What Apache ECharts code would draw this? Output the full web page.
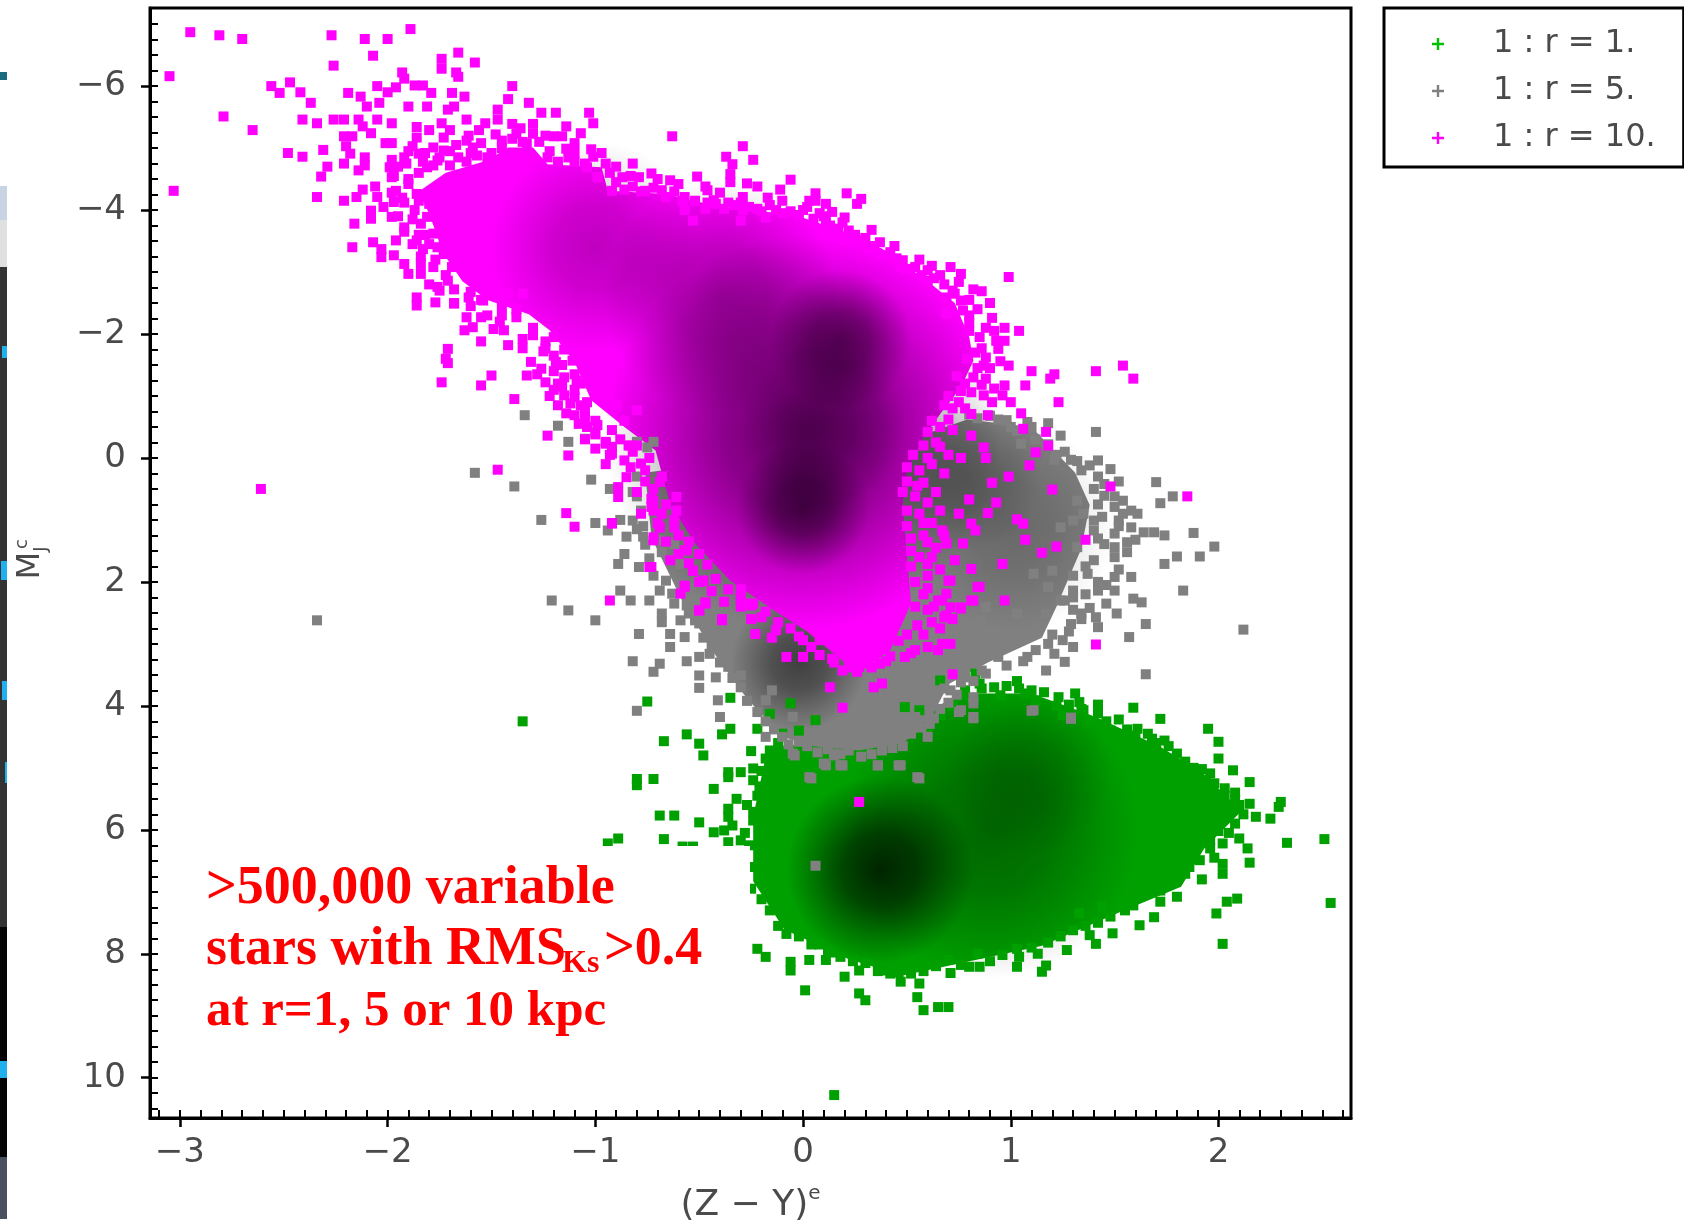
<!DOCTYPE html>
<html><head><meta charset="utf-8">
<style>html,body{margin:0;padding:0;background:#fff}#c{width:1684px;height:1229px}</style>
<script src="https://cdn.jsdelivr.net/npm/echarts@6/dist/echarts.min.js"></script>
</head><body><div id="c"></div>
<script>
const seriesNames = ['1 : r = 1.', '1 : r = 5.', '1 : r = 10.'];
const xLabels = [-3, -2, -1, 0, 1, 2];
const yLabels = [-6, -4, -2, 0, 2, 4, 6, 8, 10];

// Isolated stars: x, y, x, y ...
const magentaPts = [
-2.95,-6.87,-2.81,-6.82,-2.70,-6.76,-2.27,-6.82,-2.11,-6.76,-2.00,-6.76,-1.89,-6.92,-2.07,-6.49,-2.26,-6.33,-3.05,-6.16,-1.74,-6.44,-1.74,-6.28,-1.66,-6.54,-1.58,-6.38,-1.67,-6.22,-1.66,-6.15,-1.93,-6.22,-1.92,-6.12,
-2.56,-6.00,-2.52,-5.89,-2.47,-6.06,-2.42,-5.90,-2.37,-5.73,-2.79,-5.51,-2.65,-5.29,-2.41,-5.46,-2.34,-5.40,-2.26,-5.46,-2.21,-5.46,-2.19,-5.89,-2.13,-5.83,-2.10,-5.67,-2.05,-6.00,-2.04,-5.73,-2.00,-5.90,-1.96,-5.98,-1.87,-6.01,-1.83,-6.01,-1.79,-5.89,-1.81,-5.67,-1.90,-5.67,-1.69,-5.89,-1.63,-5.83,-1.68,-5.67,-1.71,-5.62,-1.40,-6.00,-1.42,-5.79,-1.32,-5.73,-1.47,-5.62,-1.47,-5.46,-1.26,-5.57,-1.19,-5.57,-1.03,-5.57,-1.01,-5.40,-1.62,-5.46,-1.53,-5.40,-2.14,-5.46,-2.12,-5.35,-2.05,-5.46,-1.98,-5.40,-2.08,-5.24,-2.17,-5.19,-2.21,-5.19,-2.20,-5.03,-2.18,-4.91,-1.98,-5.08,-2.01,-5.08,-1.86,-5.34,-1.86,-5.17,-1.88,-5.03,-1.80,-5.29,-1.74,-5.40,-1.70,-5.29,-1.73,-5.17,-1.61,-5.20,-1.56,-5.29,-1.40,-5.39,-1.30,-5.39,-1.30,-5.23,-1.14,-5.35,-1.20,-5.19,-1.16,-5.19,-1.07,-5.24,-1.10,-5.08,-1.14,-4.99,-0.63,-5.19,-0.82,-4.75,-0.73,-4.59,-0.64,-4.48,-0.87,-4.53,-0.79,-4.53,-0.97,-4.92,-1.01,-4.86,-2.31,-4.97,-2.41,-4.86,-2.48,-4.92,-2.29,-4.70,-2.32,-4.54,-2.21,-4.75,-2.14,-4.64,-2.11,-4.85,-2.11,-4.72,-2.34,-4.21,-2.21,-4.15,-3.03,-4.31,-2.15,-4.21,-2.12,-4.33,-2.06,-4.38,-2.05,-4.21,-1.98,-4.81,-1.99,-4.69,-1.91,-4.75,-1.98,-4.53,-1.96,-4.31,-1.97,-4.13,-2.08,-3.99,-2.08,-3.86,-1.98,-3.89,-2.16,-3.78,-2.17,-3.40,-2.07,-3.48,-2.03,-3.37,-2.03,-3.24,-1.97,-3.27,-1.96,-3.51,-1.92,-3.72,-1.92,-3.13,-1.90,-2.97,-1.84,-3.13,-1.84,-2.97,-1.86,-3.51,-1.83,-3.37,-1.86,-2.59,-1.86,-2.46,-1.77,-2.51,-1.68,-2.49,-1.76,-2.76,-1.71,-2.86,-1.62,-2.27,-1.63,-2.06,-1.59,-2.11,-1.55,-2.27,-1.55,-1.88,-1.49,-2.08,-1.44,-2.06,-1.42,-1.82,-1.35,-1.92,-1.35,-1.77,-1.24,-1.88,-1.24,-1.77,-1.71,-1.76,-1.72,-1.60,-1.71,-1.53,-1.74,-1.22,-1.55,-1.17,-1.50,-1.33,-1.33,-1.33,-1.39,-0.95,-1.31,-1.55,-1.26,-1.44,-1.24,-1.22,-1.18,-1.20,-1.15,-1.01,-1.14,-0.72,-1.10,-0.69,-1.23,-0.36,-1.13,-0.04,-1.19,-1.55,-1.11,-1.57,-1.09,-1.25,-1.04,-0.90,-0.99,-0.53,-0.95,-0.23,-0.83,-0.20,
-1.78,-5.01,-1.73,-4.96,-1.85,-4.91,-1.81,-4.69,-1.90,-4.42,-1.86,-4.26,-1.76,-4.15,-1.76,-3.89,-1.81,-3.89,-1.78,-3.62,-1.73,-3.51,-1.73,-3.29,-1.78,-3.08,-1.69,-3.08,-1.62,-2.97,-1.56,-3.08,-1.61,-2.59,-1.54,-2.54,-1.45,-2.30,-1.38,-2.27,-1.42,-2.65,-1.35,-2.65,-1.52,-4.85,-1.45,-5.12,-1.38,-5.23,-1.33,-5.07,-1.59,-5.01,-1.66,-4.85,-1.76,-4.80,-1.23,-4.85,-1.13,-4.85,-1.04,-4.69,-0.99,-4.53,-0.92,-4.31,-0.76,-4.31,-0.66,-4.21,
-0.51,-4.54,-0.47,-4.38,-0.37,-4.86,-0.34,-4.74,-0.35,-4.58,-0.35,-4.45,-0.29,-5.03,-0.24,-4.81,-0.27,-4.43,-0.22,-4.38,-0.06,-4.49,-0.11,-4.33,-0.29,-4.21,0.06,-4.27,0.06,-4.15,0.11,-4.10,0.14,-3.97,0.21,-4.27,0.28,-4.18,0.26,-4.10,0.00,-4.00,0.05,-3.86,0.11,-3.83,0.20,-3.88,-0.13,-4.00,-0.22,-4.02,-0.18,-3.88,-0.29,-4.00,-0.30,-3.83,-0.43,-4.16,-0.38,-4.02,-0.47,-4.02,-0.57,-4.21,-0.57,-4.00,-0.53,-3.83,0.22,-3.67,0.20,-3.51,0.27,-3.51,0.37,-3.48,0.32,-3.37,0.38,-3.27,0.48,-3.19,0.47,-3.08,0.54,-3.08,0.60,-3.03,0.60,-2.86,0.71,-3.08,0.76,-2.97,0.75,-2.84,0.99,-2.92,0.86,-2.69,0.69,-2.59,0.76,-2.54,0.73,-2.65,0.77,-2.38,0.80,-2.30,0.80,-2.19,0.69,-2.33,0.91,-2.26,0.97,-2.10,1.04,-2.05,0.93,-1.89,0.97,-1.89,0.86,-1.77,0.94,-1.76,0.79,-1.60,0.87,-1.49,0.95,-1.56,0.99,-1.49,1.10,-1.40,1.21,-1.35,1.19,-1.28,1.41,-1.40,1.54,-1.49,1.59,-1.28,0.88,-1.28,0.97,-1.17,1.07,-1.17,0.81,-1.06,0.87,-1.01,0.96,-1.01,0.91,-0.90,1.00,-0.90,1.23,-0.90,0.75,-0.90,0.81,-0.71,0.89,-0.69,1.05,-0.72,1.06,-0.47,1.17,-0.42,1.18,-0.20,1.12,-0.09,1.09,0.12,0.81,-0.36,0.87,-0.17,0.88,0.00,0.76,0.00,0.99,0.30,0.91,0.40,1.20,0.51,1.48,0.46,1.85,0.62,0.80,0.67,0.93,0.72,0.89,0.89,0.75,0.90,1.03,0.99,1.06,1.06,0.81,1.06,0.83,1.17,1.07,1.32,1.36,1.32,1.22,1.43,1.15,1.53,0.96,1.71,0.67,1.17,0.69,1.38,0.77,1.38,0.73,1.65,0.81,1.79,0.60,1.71,0.60,1.36,0.70,1.98,0.84,2.08,0.69,2.19,0.81,2.30,0.97,2.30,0.65,2.30,0.71,2.41,0.69,2.54,0.76,2.41,
-0.89,0.47,-0.89,0.63,-0.85,0.31,-0.92,1.06,-0.69,0.39,-0.72,0.69,-0.72,0.85,-0.69,1.12,-0.72,1.33,-0.73,1.76,-0.64,1.65,-0.93,2.30,-0.61,0.63,-0.61,0.85,-0.62,1.12,-0.56,1.49,-0.53,1.82,-0.57,2.08,-0.48,1.98,-0.50,2.46,-0.47,2.35,-0.30,2.24,-0.25,2.38,-0.39,2.60,-0.78,0.09,-0.84,-0.20,-0.95,-0.26,-0.92,-0.07,-0.86,0.04,-0.80,-0.77,-0.86,-0.60,-0.90,-0.85,-0.94,-1.03,
-1.47,0.19,-1.14,0.89,-1.10,1.11,-0.92,1.05,-2.61,0.50,-0.39,2.62,-0.23,2.84,-0.13,2.78,-0.08,3.21,0.00,2.94,0.00,3.21,0.08,2.94,0.13,3.70,0.19,4.03,0.34,3.70,0.38,3.64,0.72,3.49,0.14,3.24,0.19,3.43,0.27,3.37,0.37,3.32,0.49,3.21,0.54,3.10,0.67,3.00,0.65,3.10,0.71,3.00,0.82,2.30,0.76,2.43,0.68,2.57,1.41,3.01,0.71,1.98,0.85,2.08,0.67,2.30,-0.25,2.35,-0.20,2.57,-0.30,2.25,-0.47,2.33,-0.50,2.46,-0.53,1.82,-0.48,1.98,-0.57,2.06,-0.59,2.19,-0.74,1.76,-0.57,1.49,-0.72,1.28,-0.69,1.12,-0.73,0.79,-0.73,0.66,0.27,5.55
];
// Stars along the ragged rim of the magenta cloud
const magentaRim = [
-1.90,-4.50,-1.85,-4.60,-1.78,-4.72,-1.70,-4.72,-1.62,-4.78,-1.57,-4.88,-1.50,-4.92,-1.45,-5.00,-1.40,-5.15,-1.35,-5.10,-1.27,-5.10,-1.22,-4.95,-1.18,-4.78,-1.10,-4.78,-1.05,-4.75,-0.95,-4.75,-0.93,-4.60,-0.90,-4.45,-0.86,-4.33,-0.82,-4.38,-0.78,-4.30,-0.72,-4.36,-0.68,-4.32,-0.62,-4.30,-0.58,-4.15,-0.52,-4.15,-0.46,-4.12,-0.42,-4.10,-0.36,-4.12,-0.33,-4.08,-0.26,-4.05,-0.20,-3.98,-0.16,-4.08,-0.10,-3.95,-0.06,-3.98,-0.02,-3.92,0.02,-4.05,0.08,-3.95,0.13,-3.75,0.17,-3.70,0.25,-3.60,0.30,-3.55,0.34,-3.42,0.42,-3.32,0.45,-3.22,0.50,-3.05,0.57,-2.95,0.63,-2.90,0.68,-2.80,0.72,-2.70,0.80,-2.55,0.84,-2.40,0.80,-2.05,0.85,-1.95,0.83,-1.70,0.88,-1.62,0.84,-1.45,0.82,-1.30,0.78,-1.20,0.74,-1.32,0.70,-1.00,0.68,-0.85,0.72,-0.80,0.62,-0.60,0.66,-0.50,0.60,-0.42,0.58,-0.20,0.64,-0.25,0.53,-0.05,0.60,0.00,0.50,0.15,0.56,0.20,0.50,0.38,0.55,0.45,0.48,0.55,0.54,0.62,0.50,0.85,0.56,0.90,0.50,1.10,0.58,1.05,0.52,1.30,0.58,1.25,0.52,1.50,0.56,1.60,0.52,1.75,0.60,1.90,0.54,2.00,0.58,2.20,0.54,2.40,0.60,2.45,0.55,2.70,0.62,2.65,0.50,2.85,0.58,2.85,
0.46,2.95,0.42,3.20,0.40,3.28,0.33,3.38,0.26,3.45,0.22,3.38,0.15,3.30,0.08,3.18,0.04,3.05,-0.02,2.88,-0.06,2.75,-0.12,2.65,-0.18,2.48,-0.24,2.35,-0.30,2.12,-0.36,2.12,-0.42,1.95,-0.46,1.72,-0.50,1.55,-0.55,1.35,-0.60,1.25,-0.62,1.00,-0.68,0.90,-0.66,0.75,-0.72,0.50,-0.68,0.30,-0.76,0.20,-0.74,0.00,-0.82,-0.10,-0.88,-0.30,-0.92,-0.45,-1.00,-0.60,-1.05,-0.75,-1.10,-0.98,-1.07,-1.20,-1.06,-1.45,-1.08,-1.65,-1.15,-1.75,-1.20,-1.95,-1.30,-2.10,-1.38,-2.40,-1.45,-2.45,-1.55,-2.55,-1.60,-2.68,-1.68,-2.72,-1.72,-2.95,-1.77,-3.20,-1.76,-3.40,-1.82,-3.60,-1.84,-3.78,-1.87,-4.00,-1.92,-4.12,-1.98,-4.28,
-1.97,-4.55,-1.92,-4.85,-1.82,-4.92,-1.70,-4.95,-1.62,-5.12,-1.55,-5.08,-1.48,-5.22,-1.36,-5.32,-1.24,-5.20,-1.10,-4.92,-1.02,-4.98,-0.90,-4.70,-0.83,-4.55,-0.70,-4.50,-0.60,-4.42,-0.46,-4.32,-0.40,-4.28,-0.30,-4.12,-0.17,-4.20,-0.10,-4.15,0.03,-4.15,0.10,-3.90,0.19,-3.80,0.33,-3.68,0.44,-3.42,0.56,-3.20,0.62,-3.10,0.66,-2.95,0.82,-2.72,0.90,-2.50,0.88,-2.10,0.92,-2.05,0.90,-1.45,0.86,-1.18,0.92,-1.12,0.76,-1.08,0.78,-0.80,0.70,-0.62,0.72,-0.45,0.66,-0.18,0.70,-0.05,0.62,0.10,0.68,0.25,0.58,0.40,0.64,0.55,0.60,0.72,0.66,0.85,0.62,1.05,0.68,1.25,0.64,1.45,0.62,1.60,0.66,1.80,0.60,2.10,0.63,2.40,0.72,2.60,0.66,2.75,0.60,3.05,0.52,3.15,
-0.25,2.60,-0.15,2.90,-0.30,2.40,-0.38,2.32,-0.44,2.15,-0.50,2.00,-0.55,1.70,-0.60,1.55,-0.66,1.35,-0.70,1.05,-0.78,0.90,-0.80,0.55,-0.76,0.38,-0.83,0.15,-0.80,-0.20,-0.92,-0.18,-1.00,-0.38,-1.04,-0.50,-1.12,-0.88,-1.16,-1.15,-1.10,-1.35,-1.16,-1.50,-1.20,-1.65,-1.25,-1.72,-1.30,-1.98,-1.46,-2.20,-1.52,-2.30,-1.60,-2.45,-1.68,-2.50,-1.75,-2.70,-1.80,-2.80,-1.84,-3.25,-1.88,-3.45,-1.92,-3.65,-1.95,-3.90,-2.02,-4.05,
-1.28,-1.35,-1.20,-1.40,-1.15,-1.30,-1.10,-1.10,-1.20,-1.10,-1.22,-1.00,-1.07,-0.85,-1.18,-0.85,-1.05,-0.65,-1.08,-0.55,-1.05,-0.30,-1.00,-0.15,-0.93,-0.05,-0.95,0.10,-1.95,-4.70,-1.90,-4.95,-1.83,-4.78,-1.75,-4.85,-1.67,-5.05,-1.60,-4.92,-1.93,-4.20,-1.88,-3.85,-1.85,-3.60,-1.80,-3.45,-1.80,-4.10,-1.85,-4.15
];
const grayPts = [
-1.34,-0.69,-1.18,-0.52,-1.13,-0.26,-1.05,-0.31,-1.00,-0.42,-1.58,0.24,-1.39,0.46,-1.02,0.35,-0.93,0.50,-0.80,0.62,-0.75,-0.17,-0.80,-0.26,-0.72,-0.26,-1.26,1.00,-1.00,1.05,-0.88,1.00,-0.82,1.01,-0.94,1.17,-0.85,1.27,-0.77,1.27,-0.77,1.10,-0.86,1.55,-0.89,1.71,-0.68,1.52,-0.79,1.76,-0.59,1.71,-0.69,1.33,-0.62,1.39,-0.88,2.14,-0.83,2.30,-1.21,2.30,-1.13,2.46,-1.00,2.62,-0.74,2.30,-0.69,2.14,-0.63,2.19,-0.68,2.51,-0.68,2.65,-0.59,2.62,-0.55,2.51,-0.50,2.67,-0.45,2.78,-0.79,2.84,-0.64,2.84,-0.64,3.05,-0.57,2.89,-0.82,3.28,-0.69,3.32,-0.72,3.45,-0.56,3.28,-0.50,3.21,-0.45,3.16,-0.40,3.00,-0.50,3.51,-0.50,3.71,-0.42,3.54,-0.36,3.37,-0.30,3.51,-0.41,3.91,-0.80,4.08,-0.40,4.18,-0.18,3.91,-0.15,3.75,-0.05,4.18,-0.18,4.50,-0.05,4.77,0.10,4.93,0.18,4.96,0.36,4.96,0.46,4.96,0.15,4.77,0.03,5.15,0.55,5.15,0.82,3.86,0.82,4.18,0.75,4.10,1.10,4.08,1.29,4.21,0.61,4.29,0.54,4.18,0.46,4.45,0.71,3.75,0.78,3.54,0.86,3.43,1.17,3.43,1.65,3.49,0.94,3.21,1.08,3.21,1.26,3.29,1.21,3.16,1.25,2.94,1.30,3.05,1.57,2.89,1.65,2.68,1.42,2.73,1.41,2.57,1.51,2.51,1.29,2.68,1.34,2.51,1.17,2.51,1.11,2.78,1.03,2.51,1.03,2.89,0.95,2.78,0.86,2.62,0.88,2.41,0.94,3.00,0.81,3.00,1.24,2.30,1.30,2.14,1.42,2.14,1.50,2.14,1.50,1.92,1.42,2.00,1.58,1.92,1.83,2.14,1.63,2.33,1.59,2.27,1.74,1.71,1.80,1.59,1.91,1.59,1.98,1.43,1.88,1.21,1.74,1.25,1.69,1.20,1.64,1.20,1.58,1.12,1.56,1.36,1.50,1.44,1.45,1.39,1.50,1.22,1.70,0.39,1.72,0.73,1.78,0.62,1.54,0.69,1.61,0.90,1.50,0.79,1.52,1.01,1.48,0.18,1.42,0.04,1.34,0.20,1.45,0.42,1.45,0.61,1.29,0.03,1.21,0.03,1.41,-0.42,1.24,-0.36,1.18,-0.56,0.98,-0.61,1.05,-0.23,1.10,-0.50,1.03,-0.44,1.37,1.87,1.40,1.65,1.32,1.44,1.30,2.25,1.18,2.08,1.11,1.87,1.20,1.82,1.32,0.69,1.35,0.90,1.30,1.01,1.40,1.01,1.24,1.12,1.40,1.17,-2.34,2.62,2.12,2.77,
0.06,6.58,0.04,5.17,0.11,4.96,0.19,4.96,0.36,4.96,0.47,4.96,0.56,5.17,-0.04,4.80,0.15,4.80,0.82,3.96,0.82,4.20,0.76,4.07,1.11,4.07,1.29,4.19
];
const grayRim = [
-0.80,0.30,-0.82,0.55,-0.78,0.85,-0.80,1.15,-0.76,1.40,-0.74,1.62,-0.72,1.90,-0.66,1.98,-0.62,2.35,-0.56,2.38,-0.52,2.62,-0.46,2.55,-0.48,2.90,-0.44,3.05,-0.40,3.30,-0.36,3.20,-0.34,3.55,-0.30,3.70,-0.27,3.92,-0.22,4.10,-0.18,4.25,-0.14,4.38,-0.10,4.50,-0.07,4.62,-0.02,4.58,0.02,4.65,0.07,4.75,0.12,4.70,0.18,4.78,0.22,4.72,0.28,4.82,0.33,4.78,0.38,4.72,0.43,4.68,0.48,4.65,0.52,4.45,0.57,4.35,0.60,4.50,0.63,4.20,0.66,4.05,0.70,3.95,0.74,3.82,0.68,3.72,0.76,3.62,0.82,3.60,0.88,3.48,
0.98,3.35,1.06,3.28,1.12,3.10,1.18,3.00,1.20,2.85,1.28,2.80,1.34,2.60,1.38,2.42,1.46,2.35,1.46,2.05,1.52,1.80,1.50,1.60,1.56,1.52,1.60,1.32,1.52,1.10,1.54,0.90,1.58,0.85,1.50,0.62,1.52,0.38,1.42,0.30,1.38,0.12,1.32,0.05,1.26,-0.10,1.22,-0.05,1.18,-0.22,1.12,-0.30,1.08,-0.58,1.00,-0.50,0.94,-0.62,0.90,-0.68,0.84,-0.64,0.80,-0.70,
1.26,2.30,1.30,1.90,1.36,1.75,1.42,1.30,1.44,0.95,1.42,0.75,1.40,0.50,1.36,2.20,1.30,2.45
];
const greenPts = [
-0.75,3.93,-0.67,4.57,-0.56,4.46,-0.50,4.61,-0.48,4.80,-0.39,4.46,-0.35,4.37,-0.22,4.37,-0.25,4.73,-0.35,3.87,-0.80,5.18,-0.80,5.28,-0.72,5.18,-0.43,5.34,-0.36,5.07,-0.30,5.07,-0.24,5.01,-0.36,5.15,-0.21,5.30,-0.16,4.72,-0.32,5.50,-0.36,5.66,-0.36,5.79,-0.69,5.77,-0.62,5.77,-0.50,5.88,-0.34,5.93,-0.24,5.71,-0.16,5.77,-0.21,5.90,-0.43,6.04,-0.38,6.01,-0.89,6.14,-0.94,6.22,-0.67,6.15,-0.58,6.27,-0.53,6.27,-0.36,6.20,-0.30,6.17,-0.13,5.90,-0.09,5.58,-0.11,5.31,-0.22,7.92,-0.18,8.05,-0.06,8.13,-0.06,8.27,0.03,8.10,0.01,8.59,0.11,8.10,0.12,7.94,0.20,8.37,0.27,8.64,0.30,8.75,0.47,8.45,0.56,8.48,0.55,8.70,0.58,8.91,0.65,8.86,0.70,8.86,0.71,8.31,0.39,8.27,0.27,8.27,0.80,8.21,0.85,8.21,1.03,8.21,1.15,8.29,1.17,8.19,1.03,7.92,1.13,8.00,1.27,7.94,1.41,7.84,1.49,7.67,1.38,7.70,1.62,7.54,1.69,7.41,1.59,7.22,1.72,7.16,1.80,7.08,1.44,7.24,1.33,7.35,2.02,7.84,1.99,7.35,2.04,7.16,2.09,7.11,2.54,7.18,2.51,6.15,2.33,6.21,2.30,5.55,2.29,5.63,2.25,5.82,2.15,5.23,2.07,5.04,2.00,4.85,2.00,4.58,1.95,4.37,2.15,6.53,2.02,6.55,2.02,6.71,1.92,6.80,1.84,6.71,2.14,6.30,2.10,6.14,2.02,6.22,2.18,5.79,2.15,5.58,2.08,5.52,2.03,5.33,1.96,5.09,1.89,5.09,1.83,5.01,1.94,5.20,1.91,5.52,1.98,5.69,1.91,5.95,1.96,6.17,1.91,6.49,1.84,6.28,1.80,4.77,1.74,4.56,1.68,4.53,1.61,4.37,1.72,4.21,1.59,4.03,1.42,3.98,1.35,4.07,1.31,3.80,1.33,3.94,1.23,3.86,1.03,3.60,1.48,4.40,1.38,4.26,1.25,4.15,0.85,3.64,0.83,3.48,0.95,3.83,1.07,3.80,1.12,3.91,0.77,3.83,0.56,4.07,0.49,4.02,0.66,3.59,-0.02,4.40,-0.06,3.96,-0.16,4.13,0.06,4.23,0.15,10.28,-1.35,4.25
];
const greenRim = [
0.60,4.35,0.66,4.15,0.72,4.00,0.78,3.75,0.86,3.72,0.92,3.70,0.98,3.68,1.04,3.72,1.10,3.75,1.16,3.78,1.22,4.00,1.28,3.98,1.34,4.05,1.42,4.12,1.46,4.25,1.52,4.22,1.56,4.38,1.60,4.48,1.66,4.45,1.70,4.60,1.76,4.65,1.78,4.85,1.84,4.90,1.88,5.00,1.92,5.02,1.98,5.25,2.03,5.45,2.08,5.40,2.10,5.60,2.06,5.68,2.12,5.75,2.08,5.90,2.05,6.05,2.00,6.02,1.96,6.30,1.98,6.45,1.88,6.42,1.86,6.60,1.80,6.55,1.78,6.85,1.72,6.98,1.66,6.95,1.60,7.10,1.55,7.30,1.48,7.40,1.42,7.50,1.36,7.55,1.30,7.62,1.24,7.72,1.18,7.82,1.10,7.90,1.04,8.05,0.96,8.02,0.90,8.12,0.84,8.00,0.76,8.18,0.70,8.10,0.64,8.20,0.58,8.28,0.52,8.32,0.46,8.30,0.42,8.32,0.36,8.28,0.30,8.15,0.24,8.12,0.18,8.05,0.14,7.98,0.08,7.85,0.04,7.85,-0.02,7.72,-0.08,7.68,-0.12,7.55,-0.16,7.30,-0.20,7.12,-0.25,6.95,-0.28,6.80,-0.24,6.60,-0.28,6.42,-0.26,6.25,-0.28,6.05,-0.24,5.85,-0.27,5.60,-0.22,5.45,-0.24,5.20,-0.20,5.05,-0.18,4.85,-0.14,4.75,-0.12,4.60,-0.10,4.45
];

// Outlines of the filled-in parts of each cloud
const magentaBody = [[-1.85,-4.30],[-1.72,-4.60],[-1.52,-4.80],[-1.42,-5.01],[-1.30,-5.01],[-1.23,-4.74],[-0.97,-4.69],[-0.94,-4.31],[-0.66,-4.26],[-0.40,-4.05],[-0.04,-3.92],[0.20,-3.65],[0.38,-3.38],[0.60,-2.85],[0.73,-2.50],[0.80,-1.95],[0.82,-1.57],[0.76,-1.14],[0.66,-0.71],[0.58,-0.33],[0.50,0.20],[0.48,0.74],[0.50,1.55],[0.52,2.35],[0.42,3.10],[0.30,3.40],[0.20,3.30],[0.02,2.80],[-0.13,2.48],[-0.35,1.98],[-0.52,1.38],[-0.64,0.74],[-0.71,-0.12],[-0.86,-0.50],[-1.02,-0.93],[-1.10,-1.55],[-1.22,-2.06],[-1.32,-2.32],[-1.52,-2.55],[-1.64,-2.85],[-1.73,-3.29],[-1.80,-3.94]];
const grayBody = [[-0.76,0.24],[-0.73,1.28],[-0.58,2.32],[-0.42,3.19],[-0.27,3.88],[-0.10,4.50],[0.05,4.65],[0.27,4.72],[0.48,4.60],[0.60,4.30],[0.70,3.65],[0.89,3.30],[1.15,2.90],[1.22,2.40],[1.34,1.46],[1.38,0.76],[1.31,0.24],[1.10,-0.50],[0.79,-0.62],[0.60,-0.40]];
const greenBody = [[-0.17,4.66],[0.17,4.58],[0.48,4.23],[0.79,3.80],[1.10,3.80],[1.41,4.18],[1.72,4.66],[1.93,5.10],[2.11,5.70],[1.93,6.31],[1.82,6.92],[1.51,7.35],[1.15,7.87],[0.79,8.13],[0.48,8.35],[0.22,8.09],[-0.09,7.61],[-0.24,6.83],[-0.24,5.79]];

// Dark patches: centre x, centre y, half-width, half-height, depth
const magentaDark = [[-1.0,-3.4,0.95,1.7,0.25],[-0.4,-2.6,1.05,1.9,0.33],[0.0,-0.4,0.95,4.0,0.6],[0.18,-1.9,0.34,1.3,0.5],[0.0,0.8,0.32,2.2,0.55],[0.09,-0.5,0.4,2.0,0.28]];
const grayDark = [[-0.02,3.3,0.6,1.1,0.5],[0.79,0.3,0.45,1.2,0.22],[1.0,1.1,0.6,1.7,0.18]];
const greenDark = [[0.9,6.0,1.25,2.4,0.36],[1.1,5.1,0.9,1.3,0.16],[0.37,6.65,0.45,1.7,0.75]];

function pairs(a){const o=[];for(let i=0;i<a.length;i+=2)o.push([a[i],a[i+1]]);return o;}
function steps(from,to,st){const o=[];const n=Math.round((to-from)/st);for(let i=0;i<=n;i++)o.push(+(from+i*st).toFixed(3));return o;}

const X_MIN=-3.144, X_MAX=2.638, Y_MIN=-7.26, Y_MAX=10.65;
const font='"DejaVu Sans"';
const labelCol='#4a4a4a';

function polySeries(poly,color){
  return {type:'custom',coordinateSystem:'cartesian2d',silent:true,animation:false,data:poly,encode:{x:0,y:1},
    renderItem(p,api){
      if(p.dataIndex!==0) return null;
      return {type:'polygon',shape:{points:poly.map(v=>api.coord(v))},style:{fill:color}};
    }};
}
function darkSeries(list,rgb){
  return {type:'custom',coordinateSystem:'cartesian2d',silent:true,animation:false,data:list,encode:{x:0,y:1},
    renderItem(p,api){
      const c=api.coord([api.value(0),api.value(1)]);
      const s=api.size([api.value(2),api.value(3)]);
      const a=api.value(4);
      return {type:'ellipse',shape:{cx:c[0],cy:c[1],rx:s[0],ry:s[1]},style:{fill:{type:'radial',x:.5,y:.5,r:.5,colorStops:[
        {offset:0,color:`rgba(${rgb},${a})`},{offset:.4,color:`rgba(${rgb},${a*.75})`},{offset:.75,color:`rgba(${rgb},${a*.3})`},{offset:1,color:`rgba(${rgb},0)`}]}}};
    }};
}
function pointSeries(name,pts,color){
  return {type:'scatter',name,data:pairs(pts),symbol:'rect',symbolSize:[10,10],itemStyle:{color,opacity:1},silent:true,animation:false};
}
const plus='path://M4 0h2v4h4v2h-4v4h-2v-4h-4v-2h4z';
const strip=(y,h,fill,x,w)=>({type:'rect',z:100,shape:{x:x||0,y,width:w||7,height:h},style:{fill}});

const chart=echarts.init(document.getElementById('c'),null,{renderer:'canvas'});
chart.setOption({
  animation:false,
  backgroundColor:'#fff',
  grid:{left:150,top:8,width:1201,height:1110,outerBoundsMode:'none',show:true,borderColor:'#000',borderWidth:3,backgroundColor:'#fff'},
  legend:{left:1384,top:8,orient:'vertical',selectedMode:false,itemWidth:100,itemHeight:12,itemGap:15,
    padding:[20,28,13,48],borderColor:'#000',borderWidth:3,backgroundColor:'#fff',
    textStyle:{fontFamily:font,fontSize:32,color:labelCol},
    data:[{name:seriesNames[0],icon:plus,itemStyle:{color:'#00c000'}},{name:seriesNames[1],icon:plus,itemStyle:{color:'#808080'}},{name:seriesNames[2],icon:plus,itemStyle:{color:'#ff00ff'}}]},
  xAxis:[
    {type:'value',min:X_MIN,max:X_MAX,position:'bottom',splitLine:{show:false},
     axisLine:{show:true,onZero:false,lineStyle:{color:'#000',width:3}},
     axisTick:{show:true,length:9,customValues:xLabels,lineStyle:{color:'#000',width:2.5}},
     axisLabel:{customValues:xLabels,margin:18,fontFamily:font,fontSize:34,color:labelCol,formatter:v=>String(v).replace('-','\u2212')},
     name:'{a|(Z \u2212 Y)}{b|e}',nameLocation:'middle',nameGap:66,
     nameTextStyle:{rich:{a:{fontFamily:font,fontSize:36,color:labelCol,lineHeight:44},b:{fontFamily:font,fontSize:20,color:labelCol,verticalAlign:'top',lineHeight:44}}}},
    {type:'value',min:X_MIN,max:X_MAX,position:'bottom',splitLine:{show:false},axisLine:{show:false,onZero:false},axisLabel:{show:false},
     axisTick:{show:true,inside:true,length:8,customValues:steps(-3.1,2.6,0.1),lineStyle:{color:'#000',width:2}}}
  ],
  yAxis:[
    {type:'value',inverse:true,min:Y_MIN,max:Y_MAX,position:'left',splitLine:{show:false},
     axisLine:{show:true,onZero:false,lineStyle:{color:'#000',width:3}},
     axisTick:{show:true,length:9,customValues:yLabels,lineStyle:{color:'#000',width:2.5}},
     axisLabel:{customValues:yLabels,margin:24,fontFamily:font,fontSize:34,color:labelCol,formatter:v=>String(v).replace('-','\u2212')},
     name:'{a|M}{b|J}',nameLocation:'middle',nameGap:100,nameRotate:90,
     nameTextStyle:{rich:{a:{fontFamily:font,fontSize:32,color:labelCol,lineHeight:38},b:{fontFamily:font,fontSize:18,color:labelCol,verticalAlign:'bottom',lineHeight:38}}}},
    {type:'value',inverse:true,min:Y_MIN,max:Y_MAX,position:'left',splitLine:{show:false},axisLine:{show:false,onZero:false},axisLabel:{show:false},
     axisTick:{show:true,inside:true,length:8,customValues:steps(-7,10.5,0.25),lineStyle:{color:'#000',width:2}}}
  ],
  series:[
    pointSeries(seriesNames[0],greenPts.concat(greenRim),'#00a000'),
    polySeries(greenBody,'#00a000'),
    darkSeries(greenDark,'0,0,0'),
    pointSeries(seriesNames[1],grayPts.concat(grayRim),'#808080'),
    polySeries(grayBody,'#808080'),
    darkSeries(grayDark,'0,0,0'),
    pointSeries(seriesNames[2],magentaPts.concat(magentaRim),'#ff00ff'),
    polySeries(magentaBody,'#ff00ff'),
    darkSeries(magentaDark,'0,0,0')
  ],
  graphic:[
    {type:'rect',z:100,shape:{x:200,y:846,width:550,height:200},style:{fill:'#fff'}},
    {type:'text',z:101,x:206,y:889,style:{text:'>500,000 variable',font:'bold 54px "Liberation Serif"',fill:'#ff0000',verticalAlign:'middle'}},
    {type:'text',z:101,x:206,y:950,style:{text:'stars with RMS',font:'bold 54px "Liberation Serif"',fill:'#ff0000',verticalAlign:'middle'}},
    {type:'text',z:101,x:562,y:964,style:{text:'Ks',font:'bold 32px "Liberation Serif"',fill:'#ff0000',verticalAlign:'middle'}},
    {type:'text',z:101,x:604,y:950,style:{text:'>0.4',font:'bold 54px "Liberation Serif"',fill:'#ff0000',verticalAlign:'middle'}},
    {type:'text',z:101,x:206,y:1012,style:{text:'at r=1, 5 or 10 kpc',font:'bold 51px "Liberation Serif"',fill:'#ff0000',verticalAlign:'middle'}},
    {type:'text',z:101,x:22,y:544,rotation:Math.PI/2,style:{text:'c',font:'18px "DejaVu Sans"',fill:labelCol,verticalAlign:'middle',align:'center'}},
    strip(72,8,'#1a6a80'),strip(186,34,'#c8d4e4'),strip(220,47,'#e0e0e0'),strip(267,660,'#333333'),strip(927,230,'#050505'),strip(1157,62,'#4a5060'),
    strip(346,12,'#20b0f0',2,5),strip(561,19,'#20b0f0',1,6),strip(681,19,'#20b0f0',2,5),strip(762,21,'#20b0f0',5,2),strip(1061,17,'#20b0f0',0,7)
  ]
});
</script></body></html>
